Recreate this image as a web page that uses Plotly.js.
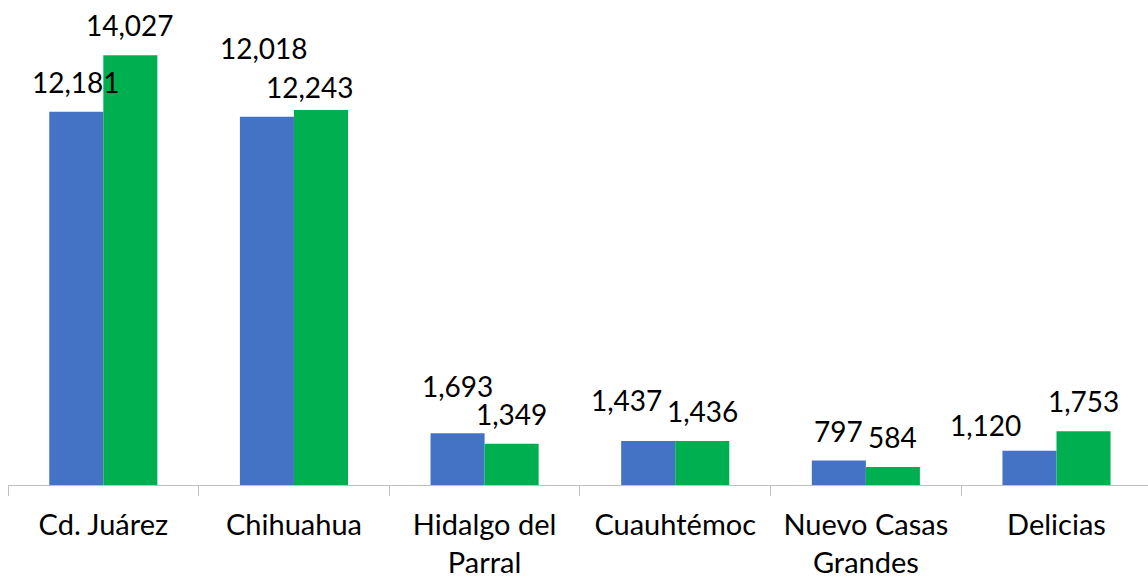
<!DOCTYPE html>
<html>
<head>
<meta charset="utf-8">
<script src="https://cdn.plot.ly/plotly-3.0.1.min.js"></script>
<style>html,body{margin:0;padding:0;background:#fff;}#chart{width:1148px;height:577px;}</style>
</head>
<body>
<div id="chart"></div>
<script>
// Data
const categories = ["Cd. Juárez", "Chihuahua", "Hidalgo del<br>Parral", "Cuauhtémoc", "Nuevo Casas<br>Grandes", "Delicias"];
const seriesBlue = [12181, 12018, 1693, 1437, 797, 1120];
const seriesGreen = [14027, 12243, 1349, 1436, 584, 1753];

// Label placement styles (pixel nudges, not data)
const blueLabelDx = [0, -3, 0, -22, 0, -44];
const blueLabelDy = [0, 39, 17, 11, 0, -4];
const greenLabelDx = [0, -11, 0, 0, 0, 0];
const greenLabelDy = [0, -7, 0, 0, 0, 0];

const BLUE = "#4472C4", GREEN = "#00B050";
const FONT = "Lato, 'Open Sans', sans-serif";

const W = 1148, H = 577, ML = 8, MR = 0, MT = 0, MB = 92;
const xRange = [-0.5, 5.48];
const bargap = 0.433;
const catPx = (W - ML - MR) / (xRange[1] - xRange[0]);
const barPx = catPx * (1 - bargap) / 2;

const fmt = v => v.toLocaleString("en-US");

const annotations = [];
categories.forEach((c, i) => {
  annotations.push({
    x: c, y: seriesBlue[i], xref: "x", yref: "y", text: fmt(seriesBlue[i]),
    showarrow: false, xanchor: "center", yanchor: "middle",
    xshift: -barPx / 2 + blueLabelDx[i], yshift: 30 + blueLabelDy[i],
    font: {family: FONT, size: 28, color: "#000"}
  });
  annotations.push({
    x: c, y: seriesGreen[i], xref: "x", yref: "y", text: fmt(seriesGreen[i]),
    showarrow: false, xanchor: "center", yanchor: "middle",
    xshift: barPx / 2 + greenLabelDx[i], yshift: 30 + greenLabelDy[i],
    font: {family: FONT, size: 28, color: "#000"}
  });
});

const traces = [
  {type: "bar", x: categories, y: seriesBlue, marker: {color: BLUE}, hoverinfo: "none"},
  {type: "bar", x: categories, y: seriesGreen, marker: {color: GREEN}, hoverinfo: "none"}
];

const layout = {
  width: W, height: H,
  margin: {l: ML, r: MR, t: MT, b: MB},
  paper_bgcolor: "#fff", plot_bgcolor: "#fff",
  showlegend: false,
  barmode: "group", bargap: bargap, bargroupgap: 0,
  xaxis: {
    type: "category", range: xRange, tickson: "boundaries",
    ticks: "outside", ticklen: 10, tickcolor: "#BFBFBF", tickwidth: 1,
    showline: true, linecolor: "#BFBFBF", linewidth: 1,
    showgrid: false, zeroline: false, automargin: false,
    ticklabelstandoff: 14,
    tickfont: {family: FONT, size: 29, color: "#000"}
  },
  yaxis: {
    range: [0, 15830], visible: false, showgrid: false, zeroline: false, fixedrange: true
  },
  annotations: annotations
};

Plotly.newPlot("chart", traces, layout, {displayModeBar: false, staticPlot: true});
</script>
</body>
</html>
